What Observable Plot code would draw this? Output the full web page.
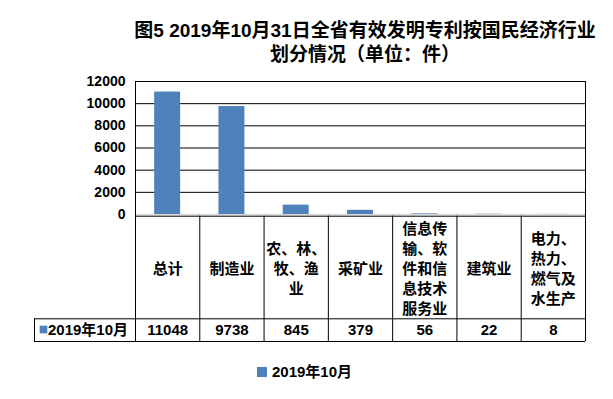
<!DOCTYPE html>
<html><head><meta charset="utf-8">
<script src="https://cdn.jsdelivr.net/npm/d3@7"></script>
<script src="https://cdn.jsdelivr.net/npm/@observablehq/plot@0.6"></script>
<style>
body{margin:0;background:#fff;}
#wrap{position:relative;width:613px;height:399px;overflow:hidden;font-family:"Liberation Sans","Noto Sans CJK SC",sans-serif;font-weight:bold;color:#000;background:#fff;}
#title{position:absolute;left:365px;top:19px;transform:translateX(-50%);text-align:center;white-space:nowrap;font-size:19px;line-height:24px;}
#chart{position:absolute;left:0;top:70px;}
#legend{position:absolute;left:257px;top:362px;font-size:15px;line-height:20px;display:flex;align-items:center;}
#legend .sw{width:10px;height:10px;background:#4F81BD;margin-right:5px;}
</style></head>
<body><div id="wrap"><div id="title"></div><div id="chart"></div><div id="legend"></div></div>
<script>
// ---- data ----
const titleLines = ["图5 2019年10月31日全省有效发明专利按国民经济行业", "划分情况（单位：件）"];
const categories = ["总计", "制造业", "农、林、牧、渔业", "采矿业", "信息传输、软件和信息技术服务业", "建筑业", "电力、热力、燃气及水生产"];
const categoryLabels = ["总计", "制造业", "农、林、\n牧、渔\n业", "采矿业", "信息传\n输、软\n件和信\n息技术\n服务业", "建筑业", "电力、\n热力、\n燃气及\n水生产"];
const seriesName = "2019年10月";
const values = [11048, 9738, 845, 379, 56, 22, 8];
const yTicks = [0, 2000, 4000, 6000, 8000, 10000, 12000];
const barColor = "#4F81BD";

// ---- layout ----
document.getElementById("title").innerHTML = titleLines.join("<br>");
document.getElementById("legend").innerHTML = `<div class="sw"></div><span>${seriesName}</span>`;

const W = 613, H = 280;
const ML = 135, MR = 28, MT = 11, MB = 9;
const zeroPx = 144;
const n = categories.length;
const colW = (W - ML - MR) / n;
const yMax = yTicks[yTicks.length - 1];
const yAt = px => (zeroPx - px) * yMax / (zeroPx - MT);
const xAt = px => (px - ML) / colW;

const tableTop = yAt(145.7), rowSep = yAt(248.3), tableBottom = yAt(271);
const headerLeft = xAt(34);

const data = categories.map((c, i) => ({i, c, label: categoryLabels[i], v: values[i]}));

const hLines = [
  {y: tableTop, x1: 0, x2: n},
  {y: rowSep, x1: headerLeft, x2: n},
  {y: tableBottom, x1: headerLeft, x2: n}
];
const vLines = d3.range(n + 1).map(k => ({x: k, y1: (k === 0 || k === n) ? yMax : tableTop, y2: tableBottom}));
vLines.push({x: headerLeft, y1: rowSep, y2: tableBottom});

const chart = Plot.plot({
  width: W, height: H,
  marginLeft: ML, marginRight: MR, marginTop: MT, marginBottom: MB,
  style: {fontFamily: '"Liberation Sans","Noto Sans CJK SC",sans-serif', fontSize: "14px", fontWeight: "bold", color: "#000", background: "#fff", overflow: "visible"},
  x: {domain: [0, n], axis: null},
  y: {domain: [0, yMax], range: [zeroPx, MT], ticks: yTicks, tickSize: 0, tickPadding: 10, tickFormat: d3.format("d"), label: null},
  marks: [
    Plot.ruleY(yTicks.filter(t => t > 0), {stroke: "#000", strokeWidth: 1}),
    Plot.ruleY([0], {stroke: "#d9d9d9", strokeWidth: 1.5}),
    Plot.rectY(data, {x1: d => d.i + 0.298, x2: d => d.i + 0.702, y: "v", fill: barColor}),
    Plot.ruleY(hLines, {y: "y", x1: "x1", x2: "x2", stroke: "#000", strokeWidth: 1}),
    Plot.ruleX(vLines, {x: "x", y1: "y1", y2: "y2", stroke: "#000", strokeWidth: 1}),
    Plot.text(data, {x: d => d.i + 0.5, y: yAt(267 - 70), text: "label", fontSize: 15, lineHeight: 1.33, fill: "#000"}),
    Plot.text(data, {x: d => d.i + 0.5, y: yAt(329.6 - 70), text: d => String(d.v), fontSize: 15, fill: "#000"}),
    Plot.dot([seriesName], {x: xAt(43), y: yAt(329 - 70), symbol: "square", r: 4.3, fill: barColor, stroke: null}),
    Plot.text([seriesName], {x: xAt(47.5), y: yAt(329.6 - 70), text: d => d, textAnchor: "start", fontSize: 15, fill: "#000"})
  ]
});
document.getElementById("chart").appendChild(chart);
</script>
</body></html>
